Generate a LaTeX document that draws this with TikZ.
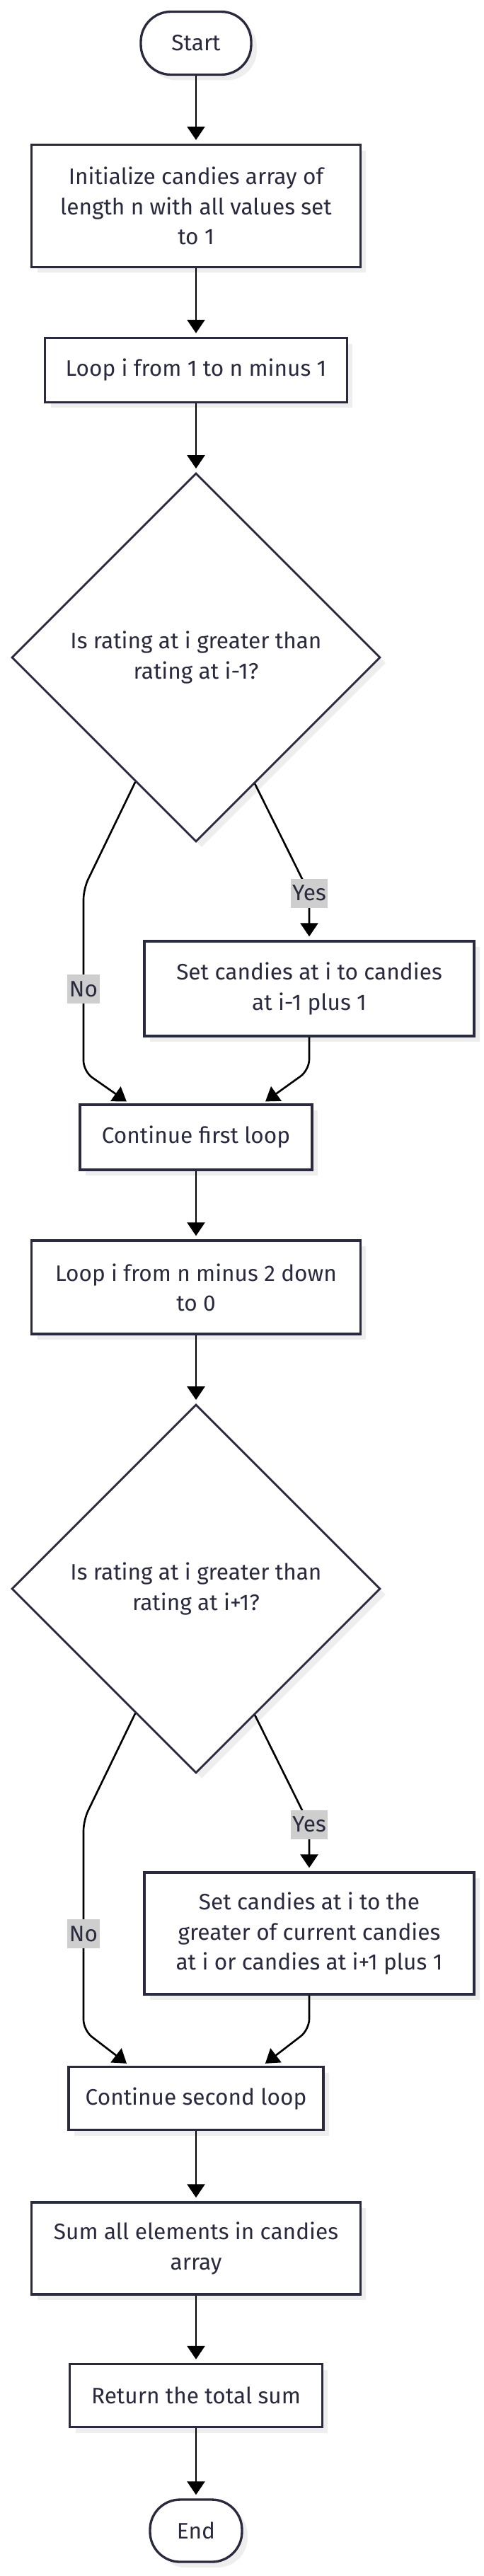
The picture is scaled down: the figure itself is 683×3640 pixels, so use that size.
\documentclass[tikz,border=0pt]{standalone}
\usepackage{fontspec}
\setmainfont{Fira Sans}
\usetikzlibrary{arrows.meta,shapes.geometric,shadows}

\definecolor{ink}{RGB}{42,42,62}
\definecolor{shade}{RGB}{238,238,238}
\definecolor{labelgray}{RGB}{206,206,206}

\tikzset{
  box/.style={draw=ink, line width=1.9pt, fill=white, text=ink, align=center,
    font=\fontsize{18}{24}\selectfont,
    drop shadow={shadow xshift=0.16cm, shadow yshift=-0.16cm, fill=shade, opacity=1}},
  term/.style={box, rounded corners=0.85cm},
  ask/.style={box, diamond, minimum size=10.42cm, inner sep=0pt, line width=1.6pt},
  flow/.style={-{Triangle[length=0.38cm,width=0.5cm]}, line width=1.5pt, shorten >=0.1cm},
  lbl/.style={fill=labelgray, text=ink, sharp corners, inner sep=1.5pt, minimum height=0.82cm,
    font=\fontsize{18}{24}\selectfont}
}

\begin{document}
\begin{tikzpicture}[x=0.02cm,y=-0.02cm]
\useasboundingbox (0,0) rectangle (683,3640);

\node[term, minimum width=3.12cm, minimum height=1.78cm] (start) at (277,61) {Start};
\node[box, minimum width=9.3cm, minimum height=3.46cm] (init) at (277,291) {Initialize candies array of\\length n with all values set\\to 1};
\node[box, minimum width=8.54cm, minimum height=1.82cm] (loopa) at (277,523) {Loop i from 1 to n minus 1};
\node[ask] (aska) at (277,929) {Is rating at i greater than\\rating at i-1?};
\node[box, minimum width=9.32cm, minimum height=2.68cm] (seta) at (437,1397) {Set candies at i to candies\\at i-1 plus 1};
\node[box, minimum width=6.56cm, minimum height=1.84cm] (conta) at (277,1607) {Continue first loop};
\node[box, minimum width=9.3cm, minimum height=2.64cm] (loopb) at (277,1819) {Loop i from n minus 2 down\\to 0};
\node[ask] (askb) at (277,2245) {Is rating at i greater than\\rating at i+1?};
\node[box, minimum width=9.32cm, minimum height=3.44cm] (setb) at (437,2732) {Set candies at i to the\\greater of current candies\\at i or candies at i+1 plus 1};
\node[box, minimum width=7.2cm, minimum height=1.78cm] (contb) at (277,2965) {Continue second loop};
\node[box, minimum width=9.3cm, minimum height=2.6cm] (sum) at (277,3177) {Sum all elements in candies\\array};
\node[box, minimum width=7.14cm, minimum height=1.78cm] (ret) at (277,3385) {Return the total sum};
\node[term, minimum width=2.6cm, minimum height=1.76cm] (stop) at (277,3576) {End};

\draw[flow] (start) -- (init);
\draw[flow] (init) -- (loopa);
\draw[flow] (loopa) -- (aska);
\draw[flow, rounded corners=0.3cm] (aska.295.5) -- (437,1262) node[lbl] (yesa) {Yes} -- (seta);
\draw[flow, rounded corners=0.3cm] (aska.244.5) -- (118,1256) -- node[lbl, pos=0.55] (noa) {No} (118,1514) -- ([xshift=-1.88cm]conta.north);
\draw[flow, rounded corners=0.3cm] (seta) -- (437,1512) -- ([xshift=1.88cm]conta.north);
\draw[flow] (conta) -- (loopb);
\draw[flow] (loopb) -- (askb);
\draw[flow, rounded corners=0.3cm] (askb.295.5) -- (437,2578) node[lbl] (yesb) {Yes} -- (setb);
\draw[flow, rounded corners=0.3cm] (askb.244.5) -- (118,2572) -- node[lbl, pos=0.54] (nob) {No} (118,2869) -- ([xshift=-1.88cm]contb.north);
\draw[flow, rounded corners=0.3cm] (setb) -- (437,2868) -- ([xshift=1.88cm]contb.north);
\draw[flow] (contb) -- (sum);
\draw[flow] (sum) -- (ret);
\draw[flow] (ret) -- (stop);

\end{tikzpicture}
\end{document}
